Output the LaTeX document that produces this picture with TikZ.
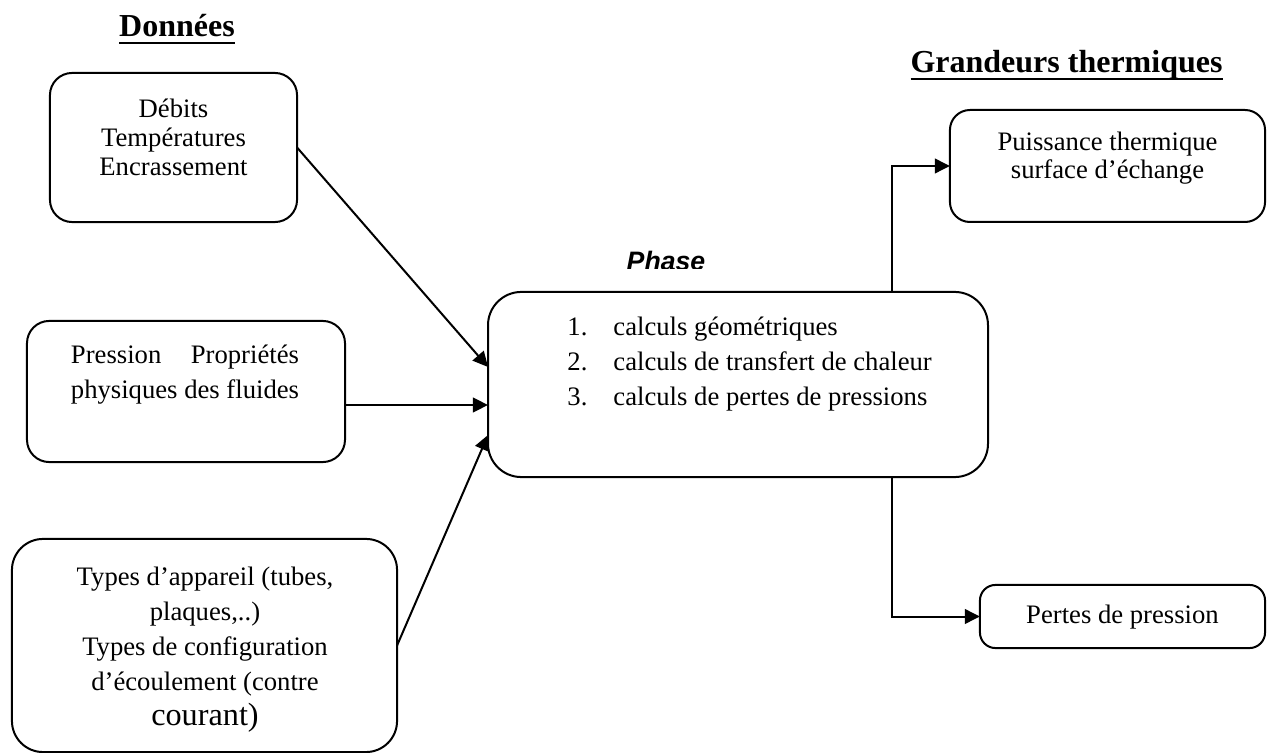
\documentclass[tikz,border=0pt]{standalone}
\usepackage{fontspec}
\setmainfont{Liberation Serif}
\newfontfamily\arialfont{Liberation Sans}
\usetikzlibrary{arrows.meta,calc}

% underline at a fixed depth, as in the word processor
\newcommand{\souligne}[1]{\setbox0\hbox{#1}\rlap{\rule[-3.1pt]{\wd0}{0.9pt}}\box0}

\begin{document}
\begin{tikzpicture}[x=0.45pt,y=-0.45pt,
    boite/.style={draw, line width=0.9pt, inner sep=0pt, outer sep=0pt},
    texte/.style={inner sep=0pt, align=center, font=\fontsize{12}{15.75}\selectfont},
    titre/.style={inner sep=0pt, anchor=base, font=\fontsize{14.4}{16}\selectfont\bfseries},
    fleche/.style={line width=0.9pt, -{Triangle[length=6.8pt,width=6.6pt]}}]

    \useasboundingbox (0,0) rectangle (1272,753);

    % Headings
    \node[titre] (donnees) at (177,37) {\souligne{Données}};
    \node[titre] (grandeurs) at (1066.5,73) {\souligne{Grandeurs thermiques}};

    % Input boxes on the left
    \node[boite, rounded corners=10pt, minimum width=111.2pt, minimum height=67.1pt] (debits) at (173.5,147.5) {};
    \node[texte, anchor=north, font=\fontsize{12}{13}\selectfont] (tdebits) at (173.5,99)
    {Débits\\Températures\\Encrassement};

    \node[boite, rounded corners=10pt, minimum width=143.1pt, minimum height=63.5pt] (pression) at (186,391.5) {};
    \node[texte, anchor=north] (tpression) at (185,345)
    {\makebox[102.6pt]{Pression\hfill Propriétés}\\physiques des fluides};

    \node[boite, rounded corners=14pt, minimum width=173.3pt, minimum height=95.9pt] (types) at (204.5,645.5) {};
    \node[texte, anchor=north] (ttypes) at (205,567)
    {Types d’appareil (tubes,\\plaques,..)\\Types de configuration\\d’écoulement (contre\\{\fontsize{14.5}{15.75}\selectfont courant)}};

    % Central phase box
    \begin{scope}
      \clip (600,240) rectangle (740,269);
      \node[inner sep=0pt, anchor=base, font=\arialfont\bfseries\itshape\fontsize{12}{14}\selectfont] (tphase) at (666,271) {Phase};
    \end{scope}
    \node[boite, rounded corners=15pt, minimum width=225pt, minimum height=83.3pt] (phase) at (738,384.5) {};
    \node[texte, anchor=north west, align=left] (tcalculs) at (567,317)
    {\makebox[20.7pt][l]{1.}calculs géométriques\\
     \makebox[20.7pt][l]{2.}calculs de transfert de chaleur\\
     \makebox[20.7pt][l]{3.}calculs de pertes de pressions};

    % Output boxes on the right
    \node[boite, rounded corners=9pt, minimum width=141.8pt, minimum height=50.4pt] (puissance) at (1107.5,166) {};
    \node[texte, anchor=north, font=\fontsize{12}{12.2}\selectfont] (tpuissance) at (1107.5,132)
    {Puissance thermique\\surface d’échange};

    \node[boite, rounded corners=7pt, minimum width=128.3pt, minimum height=28.4pt] (pertes) at (1122.5,616.5) {};
    \node[texte, anchor=base] (tpertes) at (1122.5,623) {Pertes de pression};

    % Arrows into the phase box
    \draw[fleche] (debits.east) -- ($(phase.west)+(0,-17.5)$);
    \draw[fleche] ($(pression.east)+(0,13.5)$) -- ($(phase.west)+(0,20.5)$);
    \draw[fleche] (types.east) -- ($(phase.west)+(0,50.5)$);

    % Arrows out of the phase box
    \draw[fleche] ($(phase.north)+(154,0)$) |- (puissance.west);
    \draw[fleche] ($(phase.south)+(154,0)$) |- (pertes.west);

\end{tikzpicture}
\end{document}
